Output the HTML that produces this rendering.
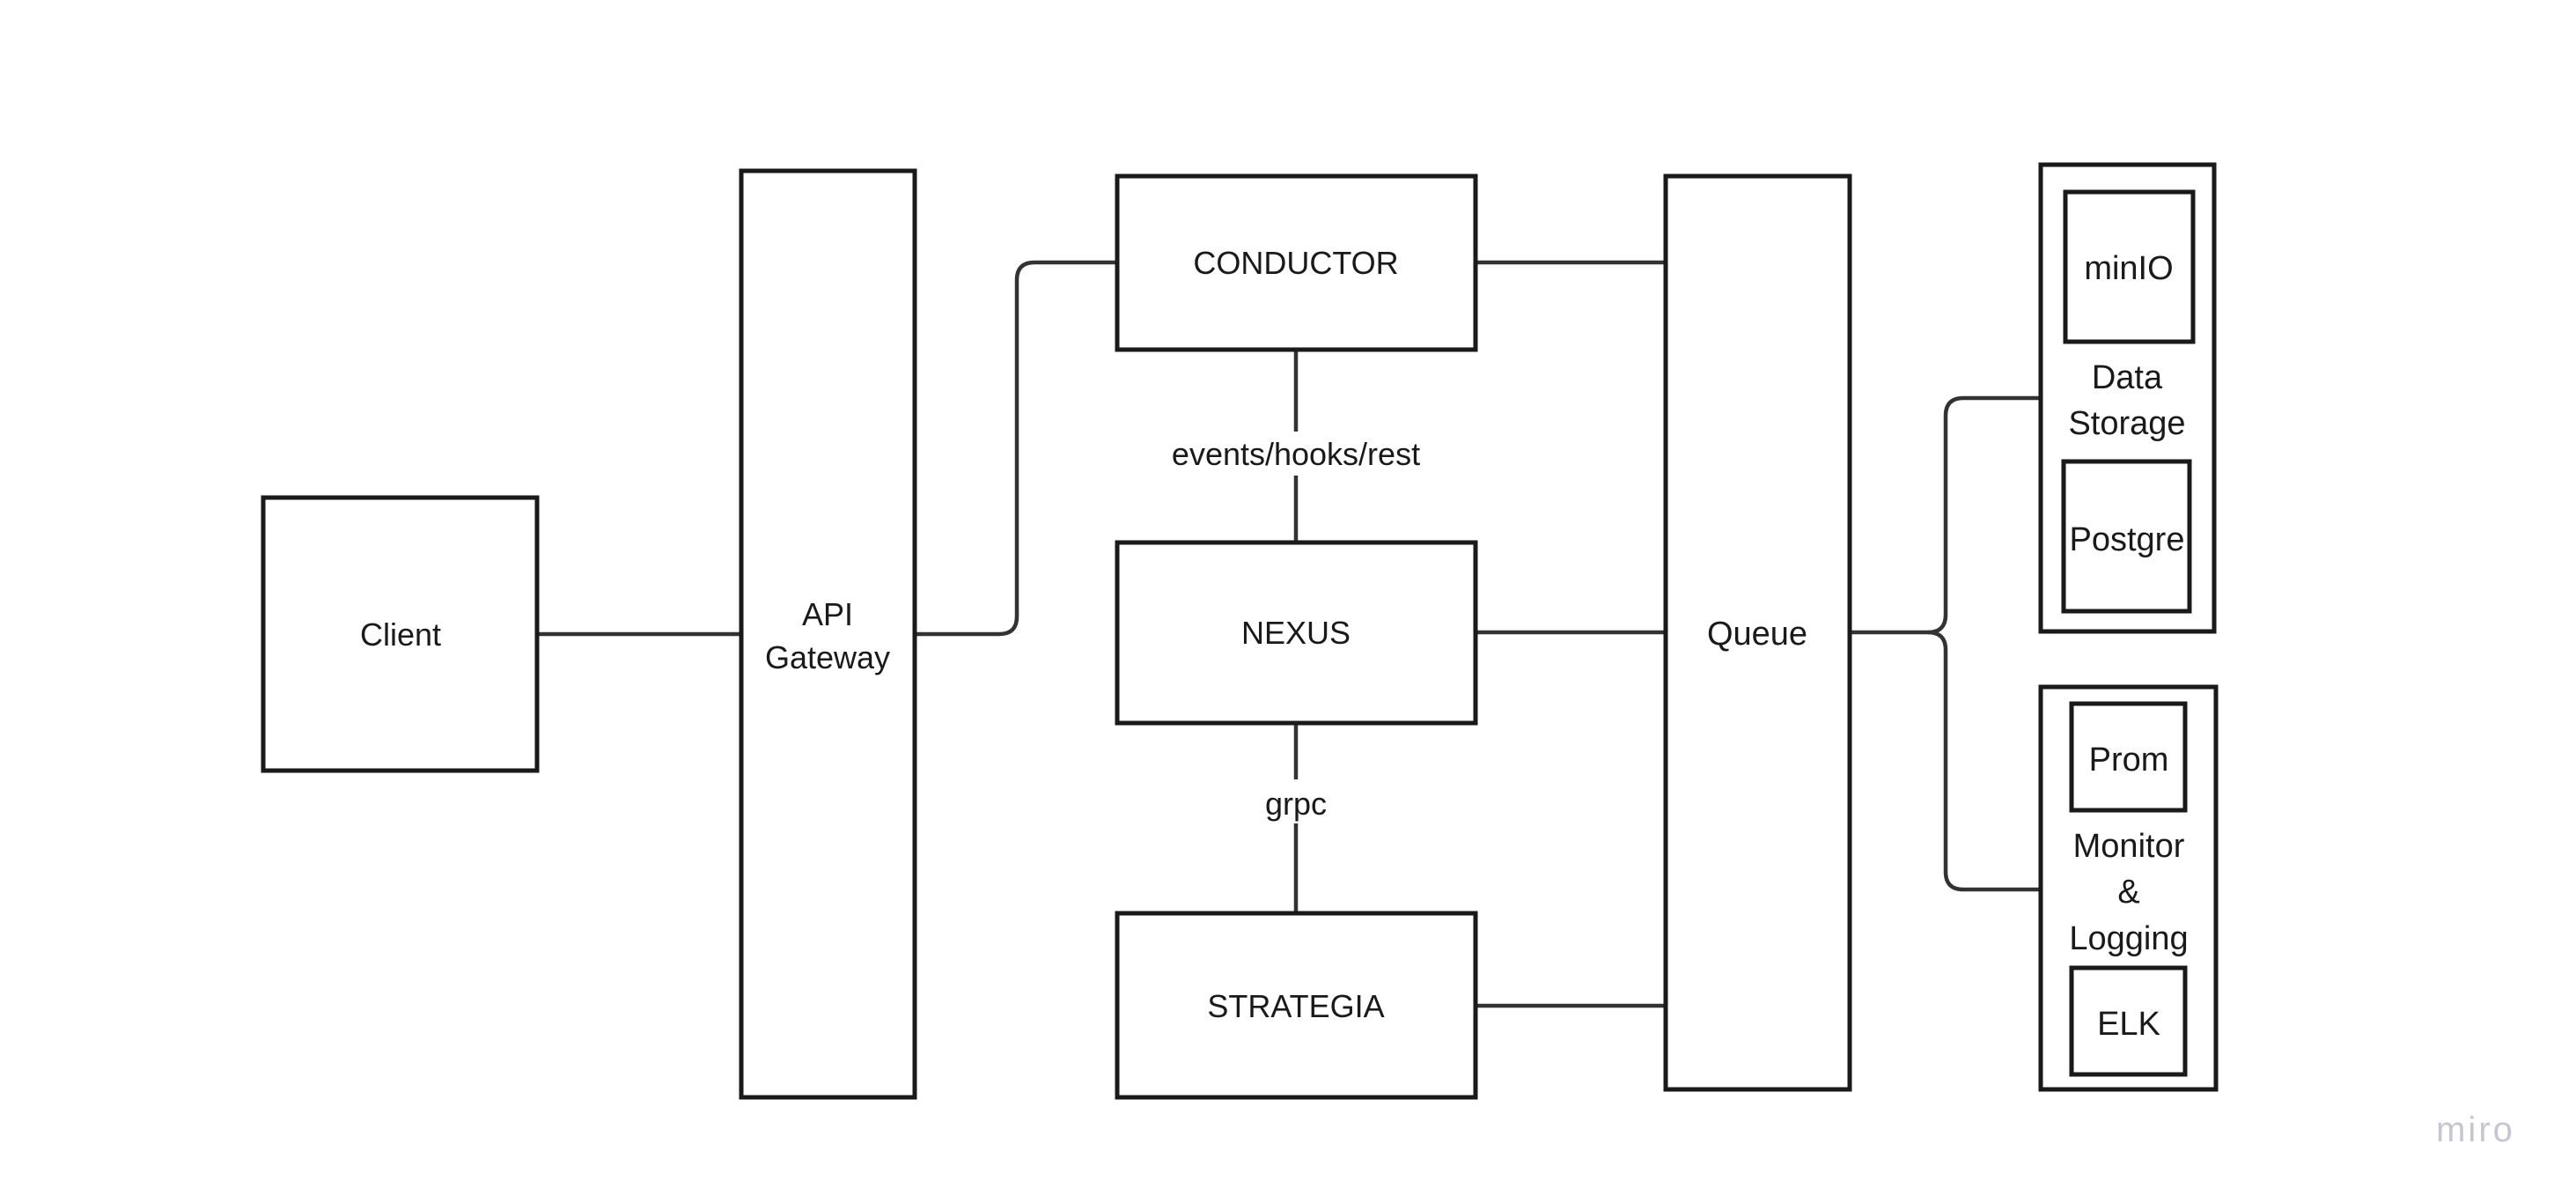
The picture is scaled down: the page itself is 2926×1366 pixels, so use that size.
<!DOCTYPE html>
<html><head><meta charset="utf-8"><style>
html,body{margin:0;padding:0;background:#fff;}
svg{display:block;}
text{font-family:"Liberation Sans",sans-serif;fill:#1a1a1a;}
</style></head><body>
<svg width="2926" height="1366" viewBox="0 0 2926 1366" xmlns="http://www.w3.org/2000/svg">
<g fill="none" stroke="#333" stroke-width="4.5">
<path d="M610 720 H842"/>
<path d="M1039 720 H1135 Q1155 720 1155 700 V318 Q1155 298 1175 298 H1269"/>
<path d="M1676 298 H1892"/>
<path d="M1676 718 H1892"/>
<path d="M1676 1142 H1892"/>
<path d="M1472 397 V490"/><path d="M1472 540 V616"/>
<path d="M1472 821 V885"/><path d="M1472 935 V1037"/>
<path d="M2101 718 H2190 Q2210 718 2210 698 V472 Q2210 452 2230 452 H2318"/>
<path d="M2190 718 Q2210 718 2210 738 V990 Q2210 1010 2230 1010 H2318"/>
</g>
<g fill="#fff" stroke="#1a1a1a" stroke-width="5">
<rect x="299" y="565" width="311" height="310"/>
<rect x="842" y="194" width="197" height="1052"/>
<rect x="1269" y="200" width="407" height="197"/>
<rect x="1269" y="616" width="407" height="205"/>
<rect x="1269" y="1037" width="407" height="209"/>
<rect x="1892" y="200" width="209" height="1037"/>
<rect x="2318" y="187" width="197" height="530"/>
<rect x="2346" y="218" width="145" height="170"/>
<rect x="2344" y="524" width="143" height="170"/>
<rect x="2318" y="780" width="199" height="457"/>
<rect x="2353" y="799" width="129" height="121"/>
<rect x="2353" y="1099" width="129" height="121"/>
</g>
<g font-size="36" text-anchor="middle">
<text x="455" y="733">Client</text>
<text x="940" y="710">API</text>
<text x="940" y="759">Gateway</text>
<text x="1472" y="311">CONDUCTOR</text>
<text x="1472" y="731">NEXUS</text>
<text x="1472" y="1155">STRATEGIA</text>
<text x="1472" y="528" fill="#333">events/hooks/rest</text>
<text x="1472" y="925" fill="#333">grpc</text>
</g>
<g font-size="38" text-anchor="middle">
<text x="1996" y="732">Queue</text>
<text x="2418" y="317">minIO</text>
<text x="2416" y="441">Data</text>
<text x="2416" y="493">Storage</text>
<text x="2416" y="625">Postgre</text>
<text x="2418" y="875">Prom</text>
<text x="2418" y="973">Monitor</text>
<text x="2418" y="1025">&amp;</text>
<text x="2418" y="1078">Logging</text>
<text x="2418" y="1175">ELK</text>
</g>
<text x="2812" y="1296" font-size="40" text-anchor="middle" style="fill:#c6c6d2;letter-spacing:3px">miro</text>
</svg>
</body></html>
